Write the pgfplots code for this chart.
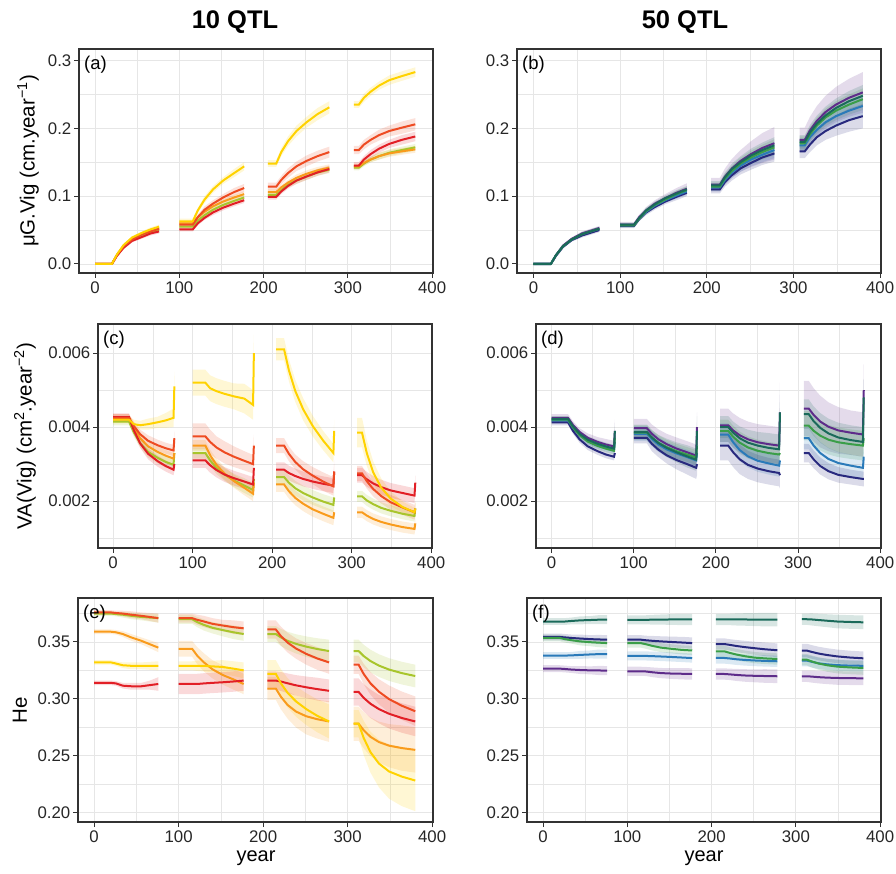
\documentclass[border=0pt]{standalone}
\usepackage{fontspec}
\setmainfont{Liberation Sans}
\usepackage{pgfplots}
\usepackage{pgfplotstable}
\pgfplotsset{compat=1.18}
\usepgfplotslibrary{fillbetween}

\definecolor{cY}{HTML}{FFD200}
\definecolor{cO}{HTML}{F99B1C}
\definecolor{cR}{HTML}{EE4B22}
\definecolor{cD}{HTML}{E21F26}
\definecolor{cG}{HTML}{A8C52C}
\definecolor{vP}{HTML}{5E2C8A}
\definecolor{vT}{HTML}{1A6A5A}
\definecolor{vG}{HTML}{3A9E48}
\definecolor{vB}{HTML}{2A7AB9}
\definecolor{vN}{HTML}{28297E}
\definecolor{gridc}{HTML}{E6E6E6}
\definecolor{axc}{HTML}{333333}

% ---------- data: x, series s1..s5, ribbon half-widths e1..e5 ----------
% (a) s1 yellow, s2 orangered, s3 orange, s4 yellowgreen, s5 red
\pgfplotstableread{
x s1 s2 s3 s4 s5 e1 e2 e3 e4 e5
0 0 0 0 0 0 0.0015 0.0015 0.0015 0.0015 0.0015
20 0 0 0 0 0 0.0015 0.0015 0.0015 0.0015 0.0015
26 0.014 0.013 0.013 0.013 0.012 0.002 0.002 0.002 0.002 0.002
34 0.028 0.026 0.027 0.026 0.024 0.002 0.002 0.002 0.002 0.002
44 0.039 0.036 0.037 0.036 0.034 0.002 0.002 0.002 0.002 0.002
56 0.046 0.044 0.045 0.043 0.040 0.0025 0.0025 0.0025 0.0025 0.0025
66 0.051 0.048 0.049 0.047 0.045 0.003 0.003 0.003 0.003 0.003
76 0.055 0.052 0.053 0.051 0.048 0.003 0.003 0.003 0.003 0.003
100 0.063 0.058 0.060 0.055 0.051 0.004 0.004 0.003 0.003 0.003
116 0.063 0.058 0.060 0.055 0.051 0.004 0.004 0.003 0.003 0.003
122 0.079 0.069 0.069 0.064 0.060 0.004 0.004 0.003 0.003 0.003
130 0.095 0.080 0.077 0.072 0.068 0.005 0.005 0.003 0.003 0.003
140 0.110 0.089 0.085 0.080 0.076 0.005 0.005 0.004 0.004 0.004
152 0.123 0.098 0.092 0.087 0.083 0.005 0.005 0.004 0.004 0.004
165 0.134 0.106 0.098 0.093 0.089 0.006 0.006 0.004 0.004 0.004
177 0.144 0.112 0.103 0.098 0.094 0.006 0.006 0.004 0.004 0.004
205 0.148 0.114 0.106 0.102 0.099 0.005 0.006 0.004 0.004 0.004
215 0.148 0.114 0.106 0.102 0.099 0.005 0.006 0.004 0.004 0.004
221 0.165 0.124 0.113 0.109 0.107 0.006 0.006 0.004 0.004 0.004
229 0.181 0.134 0.120 0.117 0.115 0.007 0.007 0.004 0.004 0.004
239 0.196 0.144 0.127 0.123 0.123 0.008 0.007 0.005 0.005 0.005
251 0.209 0.152 0.133 0.129 0.129 0.008 0.008 0.005 0.005 0.005
264 0.221 0.159 0.138 0.135 0.135 0.009 0.008 0.005 0.005 0.005
278 0.231 0.165 0.142 0.139 0.140 0.009 0.008 0.005 0.005 0.005
307 0.235 0.168 0.144 0.142 0.145 0.005 0.006 0.004 0.004 0.005
313 0.235 0.168 0.144 0.142 0.145 0.005 0.006 0.004 0.004 0.005
319 0.245 0.176 0.149 0.148 0.154 0.006 0.007 0.004 0.004 0.005
327 0.254 0.183 0.154 0.154 0.162 0.006 0.007 0.004 0.004 0.006
337 0.263 0.190 0.159 0.159 0.170 0.006 0.008 0.005 0.005 0.006
349 0.271 0.196 0.163 0.164 0.177 0.007 0.008 0.005 0.005 0.006
364 0.277 0.201 0.166 0.168 0.183 0.007 0.009 0.005 0.005 0.007
380 0.283 0.206 0.169 0.172 0.188 0.007 0.009 0.005 0.005 0.007
}\tA

% (b) s1 purple, s2 teal, s3 green, s4 blue, s5 navy
\pgfplotstableread{
x s1 s2 s3 s4 s5 e1 e2 e3 e4 e5
0 0 0 0 0 0 0.002 0.002 0.002 0.002 0.002
20 0 0 0 0 0 0.002 0.002 0.002 0.002 0.002
26 0.013 0.013 0.013 0.013 0.012 0.002 0.002 0.002 0.002 0.002
34 0.027 0.026 0.026 0.026 0.025 0.002 0.002 0.002 0.002 0.002
44 0.037 0.036 0.036 0.036 0.035 0.002 0.002 0.002 0.002 0.002
56 0.045 0.044 0.044 0.044 0.042 0.003 0.003 0.003 0.003 0.003
66 0.049 0.048 0.048 0.048 0.046 0.003 0.003 0.003 0.003 0.003
76 0.053 0.052 0.052 0.052 0.050 0.003 0.003 0.003 0.003 0.003
100 0.058 0.058 0.057 0.057 0.056 0.004 0.003 0.003 0.003 0.003
116 0.058 0.058 0.057 0.057 0.056 0.004 0.003 0.003 0.003 0.003
122 0.069 0.068 0.067 0.067 0.066 0.004 0.003 0.003 0.003 0.003
130 0.079 0.079 0.078 0.077 0.076 0.005 0.004 0.004 0.004 0.004
140 0.089 0.088 0.087 0.086 0.084 0.005 0.004 0.004 0.004 0.004
152 0.097 0.097 0.095 0.094 0.092 0.006 0.004 0.004 0.004 0.004
165 0.105 0.104 0.103 0.101 0.099 0.007 0.005 0.005 0.005 0.005
177 0.111 0.110 0.109 0.107 0.105 0.008 0.005 0.005 0.005 0.005
205 0.117 0.116 0.114 0.113 0.110 0.010 0.006 0.006 0.006 0.006
215 0.117 0.116 0.114 0.113 0.110 0.010 0.006 0.006 0.006 0.006
221 0.129 0.128 0.126 0.124 0.121 0.012 0.007 0.007 0.007 0.007
229 0.141 0.140 0.137 0.135 0.131 0.014 0.008 0.008 0.008 0.008
239 0.152 0.150 0.148 0.145 0.141 0.016 0.009 0.009 0.009 0.009
251 0.162 0.160 0.157 0.154 0.149 0.019 0.010 0.010 0.010 0.010
264 0.171 0.168 0.165 0.161 0.157 0.022 0.011 0.011 0.011 0.011
278 0.178 0.175 0.172 0.168 0.163 0.024 0.012 0.012 0.012 0.012
307 0.183 0.180 0.178 0.175 0.166 0.018 0.010 0.010 0.010 0.010
313 0.183 0.180 0.178 0.175 0.166 0.018 0.010 0.010 0.010 0.010
319 0.197 0.194 0.191 0.187 0.176 0.020 0.011 0.011 0.011 0.011
327 0.211 0.207 0.204 0.198 0.187 0.022 0.012 0.012 0.012 0.012
337 0.224 0.219 0.216 0.209 0.196 0.024 0.013 0.013 0.013 0.013
349 0.235 0.230 0.226 0.218 0.204 0.026 0.014 0.014 0.014 0.015
364 0.245 0.240 0.235 0.226 0.212 0.028 0.015 0.015 0.015 0.017
380 0.253 0.248 0.243 0.233 0.218 0.030 0.016 0.016 0.016 0.018
}\tB

% (c) s1 yellow, s2 orangered, s3 orange, s4 yellowgreen, s5 red
\pgfplotstableread{
x s1 s2 s3 s4 s5 e1 e2 e3 e4 e5
0 0.0042 0.00425 0.00425 0.00415 0.00427 0.0001 0.0001 0.0001 0.0001 0.0001
20 0.0042 0.00425 0.00425 0.00415 0.00427 0.0001 0.0001 0.0001 0.0001 0.0001
26 0.00408 0.00403 0.00398 0.00386 0.00392 0.00012 0.00012 0.00012 0.00012 0.00012
34 0.00405 0.00381 0.0037 0.00357 0.00356 0.00012 0.00012 0.00012 0.00012 0.00012
44 0.00408 0.00363 0.00348 0.00333 0.00328 0.00015 0.00015 0.00015 0.00015 0.00015
56 0.00413 0.00351 0.00333 0.00317 0.00308 0.00015 0.00015 0.00015 0.00015 0.00015
66 0.00418 0.00343 0.00323 0.00306 0.00295 0.0002 0.00015 0.00015 0.00015 0.00015
76 0.00425 0.00337 0.00315 0.00298 0.00285 0.00025 0.00015 0.00015 0.00015 0.00015
77 0.0051 0.0037 0.0033 0.0033 0.0030 0.0004 0.0002 0.0002 0.0002 0.0002
100 0.0052 0.00375 0.0035 0.0033 0.0031 0.00035 0.00035 0.00015 0.00015 0.0002
116 0.0052 0.00375 0.0035 0.0033 0.0031 0.00035 0.00035 0.00015 0.00015 0.0002
122 0.00505 0.0036 0.00324 0.0031 0.00297 0.00035 0.00033 0.00015 0.00015 0.0002
130 0.00497 0.00345 0.00298 0.0029 0.00284 0.00035 0.0003 0.00017 0.00017 0.0002
140 0.0049 0.00332 0.00275 0.00272 0.00272 0.00035 0.0003 0.00017 0.00017 0.0002
152 0.00483 0.0032 0.00254 0.00256 0.00262 0.00035 0.00028 0.00018 0.00018 0.0002
165 0.00477 0.00309 0.00236 0.00242 0.00253 0.0004 0.00026 0.0002 0.0002 0.0002
176 0.0046 0.003 0.0022 0.0023 0.00245 0.0004 0.00025 0.0002 0.0002 0.0002
177 0.0060 0.0035 0.0025 0.0026 0.0029 0.0005 0.0003 0.0002 0.0002 0.0002
205 0.0061 0.0035 0.00245 0.00265 0.00285 0.0003 0.0002 0.0002 0.0002 0.0002
215 0.0061 0.0035 0.00245 0.00265 0.00285 0.0003 0.0002 0.0002 0.0002 0.0002
221 0.00554 0.00328 0.00227 0.0025 0.00276 0.0003 0.0002 0.0002 0.0002 0.0002
229 0.00498 0.00306 0.00209 0.00235 0.00268 0.0003 0.0002 0.0002 0.0002 0.0002
239 0.00448 0.00286 0.00193 0.00222 0.0026 0.0003 0.00022 0.0002 0.0002 0.0002
251 0.00403 0.00269 0.00178 0.0021 0.00253 0.00028 0.00023 0.0002 0.0002 0.0002
264 0.00364 0.00253 0.00166 0.00199 0.00247 0.00026 0.00025 0.0002 0.0002 0.0002
277 0.0033 0.0024 0.00155 0.0019 0.00242 0.00025 0.00025 0.0002 0.0002 0.0002
278 0.0039 0.0028 0.0017 0.0021 0.0028 0.0003 0.0003 0.0002 0.0002 0.0002
307 0.00385 0.00275 0.0017 0.00213 0.0027 0.0004 0.0002 0.00015 0.00015 0.0002
313 0.00385 0.00275 0.0017 0.00213 0.0027 0.0004 0.0002 0.00015 0.00015 0.0002
319 0.0033 0.00254 0.00161 0.00202 0.00259 0.00035 0.0002 0.00015 0.00015 0.0002
327 0.00278 0.00233 0.00152 0.00192 0.00248 0.0003 0.0002 0.00015 0.00015 0.0002
337 0.00237 0.00214 0.00144 0.00182 0.00238 0.00025 0.0002 0.00015 0.00015 0.0002
349 0.00207 0.00197 0.00137 0.00174 0.00229 0.0002 0.0002 0.00015 0.00015 0.0002
364 0.00184 0.00183 0.0013 0.00166 0.00222 0.00015 0.0002 0.00015 0.00015 0.0002
379 0.0017 0.0017 0.00125 0.0016 0.00215 0.00012 0.0002 0.00015 0.00015 0.0002
380 0.0018 0.0018 0.0014 0.0018 0.0025 0.00015 0.0002 0.00015 0.00015 0.0002
}\tC

% (d) s1 purple, s2 teal, s3 green, s4 blue, s5 navy
\pgfplotstableread{
x s1 s2 s3 s4 s5 e1 e2 e3 e4 e5
0 0.00425 0.00422 0.0042 0.00418 0.00413 0.0001 0.00008 0.00008 0.00008 0.00008
20 0.00425 0.00422 0.0042 0.00418 0.00413 0.0001 0.00008 0.00008 0.00008 0.00008
26 0.00406 0.00402 0.00399 0.00399 0.0039 0.0001 0.00008 0.00008 0.00008 0.00008
34 0.00387 0.00382 0.00378 0.00379 0.00367 0.0001 0.00009 0.00009 0.00009 0.00009
44 0.00371 0.00366 0.00361 0.00363 0.00348 0.00012 0.0001 0.0001 0.0001 0.0001
56 0.0036 0.00355 0.00349 0.00352 0.00335 0.00013 0.0001 0.0001 0.0001 0.0001
66 0.00353 0.00348 0.00342 0.00345 0.00326 0.00015 0.0001 0.0001 0.0001 0.0001
76 0.00348 0.00342 0.00336 0.0034 0.0032 0.00015 0.0001 0.0001 0.0001 0.0001
77 0.0039 0.0039 0.0037 0.0036 0.0033 0.0003 0.0002 0.0001 0.0001 0.0001
100 0.00397 0.00387 0.00385 0.00382 0.00371 0.00025 0.0002 0.0002 0.0002 0.00015
116 0.00397 0.00387 0.00385 0.00382 0.00371 0.00025 0.0002 0.0002 0.0002 0.00015
122 0.00382 0.00372 0.00372 0.00368 0.00355 0.00025 0.0002 0.0002 0.0002 0.0002
130 0.00367 0.00357 0.00358 0.00353 0.00339 0.00027 0.00022 0.0002 0.0002 0.0002
140 0.00354 0.00344 0.00346 0.0034 0.00324 0.00028 0.00025 0.0002 0.0002 0.00022
152 0.00342 0.00332 0.00335 0.00329 0.00311 0.0003 0.00027 0.0002 0.0002 0.00025
165 0.00332 0.00321 0.00326 0.00319 0.003 0.0003 0.0003 0.0002 0.0002 0.00028
176 0.00323 0.00312 0.00318 0.0031 0.0029 0.0003 0.0003 0.0002 0.0002 0.0003
177 0.0040 0.0039 0.0035 0.0033 0.0030 0.0004 0.0004 0.0002 0.0002 0.0003
205 0.00405 0.004 0.0039 0.0038 0.0035 0.00045 0.0003 0.0003 0.0003 0.0004
215 0.00405 0.004 0.0039 0.0038 0.0035 0.00045 0.0003 0.0003 0.0003 0.0004
221 0.00391 0.00385 0.00374 0.00359 0.00332 0.00046 0.0003 0.0003 0.0003 0.0004
229 0.00378 0.0037 0.00358 0.00338 0.00313 0.00047 0.00032 0.0003 0.0003 0.0004
239 0.00367 0.00358 0.00345 0.00321 0.00298 0.00048 0.00035 0.0003 0.0003 0.00038
251 0.00359 0.0035 0.00336 0.00309 0.00288 0.00049 0.00037 0.0003 0.0003 0.00037
264 0.00354 0.00344 0.0033 0.00302 0.00281 0.0005 0.0004 0.0003 0.0003 0.00036
277 0.0035 0.0034 0.00326 0.00296 0.00276 0.0005 0.0004 0.0003 0.0003 0.00036
278 0.0044 0.0044 0.0033 0.0031 0.0027 0.0008 0.0006 0.0003 0.0003 0.00036
307 0.0045 0.00435 0.00404 0.0037 0.0033 0.00075 0.0004 0.0004 0.0003 0.00025
313 0.0045 0.00435 0.00404 0.0037 0.0033 0.00075 0.0004 0.0004 0.0003 0.00025
319 0.00433 0.00416 0.0039 0.0035 0.00313 0.00072 0.0004 0.0004 0.0003 0.00024
327 0.00415 0.00398 0.00377 0.0033 0.00295 0.0007 0.0004 0.0004 0.0003 0.00023
337 0.00401 0.00383 0.00366 0.00314 0.00281 0.00066 0.0004 0.0004 0.0003 0.00022
349 0.00391 0.00372 0.00359 0.00303 0.00271 0.00063 0.0004 0.0004 0.0003 0.00021
364 0.00385 0.00365 0.00354 0.00296 0.00265 0.0006 0.0004 0.0004 0.0003 0.0002
379 0.0038 0.0036 0.0035 0.0029 0.0026 0.0006 0.0004 0.0004 0.0003 0.0002
380 0.0050 0.0048 0.0037 0.0032 0.0026 0.0007 0.0005 0.0004 0.0003 0.0002
}\tD

% (e) s1 yellow, s2 orangered, s3 orange, s4 yellowgreen, s5 red
\pgfplotstableread{
x s1 s2 s3 s4 s5 e1 e2 e3 e4 e5
0 0.332 0.376 0.359 0.375 0.314 0.002 0.002 0.002 0.002 0.002
20 0.332 0.376 0.359 0.375 0.314 0.002 0.002 0.002 0.002 0.002
26 0.331 0.3755 0.3585 0.3745 0.3135 0.002 0.002 0.002 0.002 0.002
34 0.3295 0.375 0.357 0.374 0.3115 0.0025 0.0025 0.0025 0.0025 0.0025
44 0.329 0.374 0.354 0.373 0.311 0.003 0.003 0.003 0.003 0.003
56 0.329 0.373 0.351 0.372 0.311 0.003 0.003 0.003 0.003 0.003
66 0.329 0.372 0.348 0.3715 0.312 0.0035 0.0035 0.0035 0.0035 0.004
76 0.329 0.371 0.345 0.371 0.313 0.004 0.004 0.004 0.004 0.006
100 0.329 0.371 0.344 0.370 0.313 0.004 0.004 0.007 0.004 0.009
116 0.329 0.371 0.344 0.370 0.313 0.004 0.004 0.007 0.004 0.009
122 0.329 0.3695 0.338 0.3675 0.313 0.0045 0.0045 0.0075 0.0045 0.009
130 0.329 0.368 0.332 0.365 0.3135 0.005 0.005 0.008 0.005 0.009
140 0.3285 0.366 0.326 0.3625 0.314 0.005 0.005 0.008 0.005 0.009
152 0.328 0.3645 0.321 0.3605 0.3145 0.006 0.005 0.0085 0.0055 0.009
165 0.3265 0.363 0.317 0.3585 0.3152 0.0065 0.006 0.009 0.006 0.009
177 0.325 0.362 0.313 0.357 0.316 0.007 0.006 0.009 0.006 0.009
205 0.322 0.361 0.309 0.357 0.316 0.012 0.008 0.010 0.007 0.008
215 0.322 0.361 0.309 0.357 0.316 0.012 0.008 0.010 0.007 0.008
221 0.3136 0.3552 0.3018 0.354 0.3152 0.0125 0.0083 0.011 0.0075 0.0083
229 0.3052 0.3494 0.2945 0.351 0.3136 0.013 0.0087 0.012 0.008 0.0087
239 0.2976 0.3442 0.2887 0.3483 0.3118 0.0135 0.009 0.014 0.0085 0.009
251 0.2909 0.3395 0.2846 0.3459 0.3101 0.014 0.0095 0.016 0.009 0.0095
264 0.285 0.3355 0.282 0.3438 0.3085 0.0145 0.010 0.017 0.0095 0.010
278 0.280 0.332 0.280 0.342 0.307 0.015 0.010 0.018 0.010 0.010
307 0.278 0.330 0.278 0.342 0.306 0.012 0.008 0.015 0.010 0.012
313 0.278 0.330 0.278 0.342 0.306 0.012 0.008 0.015 0.010 0.012
319 0.2655 0.3218 0.2723 0.3376 0.3008 0.015 0.009 0.016 0.010 0.012
327 0.253 0.3136 0.2665 0.3332 0.2956 0.018 0.010 0.017 0.010 0.0125
337 0.243 0.3062 0.2619 0.3292 0.2909 0.021 0.011 0.018 0.010 0.0125
349 0.236 0.2997 0.2587 0.3257 0.2868 0.024 0.012 0.019 0.010 0.013
364 0.2315 0.2939 0.2566 0.3226 0.2831 0.026 0.0125 0.020 0.010 0.013
380 0.228 0.289 0.255 0.320 0.280 0.027 0.013 0.020 0.010 0.013
}\tE

% (f) s1 purple, s2 teal, s3 green, s4 blue, s5 navy
\pgfplotstableread{
x s1 s2 s3 s4 s5 e1 e2 e3 e4 e5
0 0.3265 0.368 0.3535 0.338 0.3544 0.003 0.003 0.003 0.003 0.003
20 0.3265 0.368 0.3535 0.338 0.3544 0.003 0.003 0.003 0.003 0.003
26 0.3262 0.368 0.3525 0.338 0.354 0.003 0.003 0.003 0.003 0.003
34 0.3257 0.3685 0.3515 0.3382 0.3535 0.003 0.003 0.003 0.003 0.003
44 0.3253 0.369 0.3505 0.3386 0.353 0.0035 0.0035 0.0035 0.0035 0.0035
56 0.325 0.3693 0.3498 0.339 0.3525 0.0035 0.0035 0.0035 0.0035 0.0035
66 0.3249 0.3696 0.3494 0.3393 0.3522 0.004 0.004 0.004 0.004 0.004
76 0.3248 0.3697 0.349 0.3394 0.352 0.004 0.004 0.004 0.004 0.004
100 0.3242 0.3695 0.349 0.3378 0.352 0.004 0.004 0.004 0.004 0.004
116 0.3242 0.3695 0.349 0.3378 0.352 0.004 0.004 0.004 0.004 0.004
122 0.324 0.3695 0.348 0.3377 0.3515 0.004 0.004 0.004 0.004 0.004
130 0.3233 0.3696 0.3465 0.3375 0.351 0.0043 0.0043 0.004 0.004 0.0043
140 0.3226 0.3697 0.345 0.3372 0.3505 0.0045 0.0045 0.004 0.004 0.0045
152 0.3222 0.3698 0.344 0.3368 0.350 0.0047 0.0047 0.004 0.004 0.0047
165 0.322 0.3698 0.343 0.3363 0.3495 0.005 0.005 0.004 0.004 0.005
177 0.3218 0.3698 0.3425 0.3358 0.349 0.005 0.005 0.004 0.004 0.005
205 0.3218 0.3698 0.3418 0.3359 0.3482 0.005 0.005 0.005 0.005 0.005
215 0.3218 0.3698 0.3418 0.3359 0.3482 0.005 0.005 0.005 0.005 0.005
221 0.3215 0.3698 0.3405 0.3355 0.3475 0.005 0.005 0.005 0.005 0.005
229 0.321 0.3698 0.339 0.3348 0.3465 0.0053 0.0053 0.005 0.005 0.0053
239 0.3205 0.3698 0.3375 0.3342 0.3455 0.0055 0.0055 0.005 0.005 0.0055
251 0.3202 0.3697 0.3362 0.3337 0.3445 0.0057 0.0057 0.005 0.005 0.0057
264 0.320 0.3697 0.3355 0.3333 0.3435 0.006 0.006 0.005 0.005 0.006
278 0.3198 0.3697 0.335 0.333 0.3427 0.006 0.006 0.005 0.005 0.006
307 0.3198 0.370 0.3344 0.3336 0.3424 0.005 0.005 0.005 0.005 0.006
313 0.3198 0.370 0.3344 0.3336 0.3424 0.005 0.005 0.005 0.005 0.006
319 0.3195 0.3698 0.3328 0.3325 0.3412 0.0053 0.0053 0.0053 0.005 0.006
327 0.319 0.3693 0.331 0.3312 0.3398 0.0055 0.0055 0.0055 0.005 0.006
337 0.3186 0.3687 0.3295 0.3303 0.3385 0.0057 0.0057 0.0057 0.005 0.006
349 0.3183 0.368 0.3283 0.3296 0.3373 0.006 0.006 0.006 0.005 0.006
364 0.3181 0.3676 0.3276 0.3292 0.3363 0.006 0.006 0.006 0.005 0.006
380 0.318 0.3673 0.3271 0.329 0.3356 0.006 0.006 0.006 0.005 0.006
}\tF

% ---------- drawing macros ----------
\newcommand\band[5]{%
\addplot[draw=none, forget plot, name path=#4u] table[x=x, y expr=\thisrow{s#2}+\thisrow{e#2}, restrict x to domain=#5]{#1};
\addplot[draw=none, forget plot, name path=#4l] table[x=x, y expr=\thisrow{s#2}-\thisrow{e#2}, restrict x to domain=#5]{#1};
\addplot[fill=#3, fill opacity=0.17, draw=none, forget plot] fill between[of=#4u and #4l];
}
\newcommand\ribbons[4]{%
\band{#1}{#2}{#3}{#4p}{-5:90}
\band{#1}{#2}{#3}{#4q}{90:195}
\band{#1}{#2}{#3}{#4r}{195:300}
\band{#1}{#2}{#3}{#4s}{300:400}
}
\newcommand\lines[3]{%
\addplot[#3, line width=2pt, forget plot] table[x=x, y=s#2, restrict x to domain=-5:90]{#1};
\addplot[#3, line width=2pt, forget plot] table[x=x, y=s#2, restrict x to domain=90:195]{#1};
\addplot[#3, line width=2pt, forget plot] table[x=x, y=s#2, restrict x to domain=195:300]{#1};
\addplot[#3, line width=2pt, forget plot] table[x=x, y=s#2, restrict x to domain=300:400]{#1};
}
\newcommand\warm[2]{% table, id
\ribbons{#1}{1}{cY}{#21}\ribbons{#1}{2}{cR}{#22}\ribbons{#1}{3}{cO}{#23}\ribbons{#1}{4}{cG}{#24}\ribbons{#1}{5}{cD}{#25}
\lines{#1}{4}{cG}\lines{#1}{3}{cO}\lines{#1}{5}{cD}\lines{#1}{2}{cR}\lines{#1}{1}{cY}
}
\newcommand\cool[2]{% table, id
\ribbons{#1}{1}{vP}{#21}\ribbons{#1}{2}{vT}{#22}\ribbons{#1}{3}{vG}{#23}\ribbons{#1}{4}{vB}{#24}\ribbons{#1}{5}{vN}{#25}
\lines{#1}{5}{vN}\lines{#1}{4}{vB}\lines{#1}{1}{vP}\lines{#1}{3}{vG}\lines{#1}{2}{vT}
}
\newcommand\paneltag[1]{\node[anchor=north west, inner sep=0pt, font=\fontsize{18.5}{18.5}\selectfont, xshift=5pt, yshift=-7pt] at (rel axis cs:0,1) {#1};}

\pgfplotsset{
 panel/.style={
  scale only axis, anchor=south west, height=224pt,
  xmin=-19, xmax=401,
  xtick={0,100,200,300,400}, xticklabels={0,100,200,300,400},
  minor xtick={50,150,250,350},
  grid=both,
  major grid style={color=gridc, line width=0.9pt},
  minor grid style={color=gridc, line width=0.5pt},
  tick align=outside, xtick pos=left, ytick pos=left,
  major tick length=5pt, minor tick length=0pt,
  tick style={color=axc, line width=1pt},
  axis line style={color=axc, line width=1.2pt},
  tick label style={font=\fontsize{16.8}{16.8}\selectfont, text=black!85},
  yticklabel style={inner sep=2.5pt},
  xticklabel style={inner sep=4pt},
  scaled y ticks=false, scaled x ticks=false,
 },
 rowA/.style={ymin=-0.0133, ymax=0.317, ytick={0,0.1,0.2,0.3}, yticklabels={0.0,0.1,0.2,0.3}, minor ytick={0.05,0.15,0.25}},
 rowC/.style={ymin=0.000735, ymax=0.006785, ytick={0.002,0.004,0.006}, yticklabels={0.002,0.004,0.006}, minor ytick={0.001,0.003,0.005}},
 rowE/.style={ymin=0.1915, ymax=0.3887, ytick={0.20,0.25,0.30,0.35}, yticklabels={0.20,0.25,0.30,0.35}, minor ytick={0.225,0.275,0.325,0.375}},
}

\begin{document}
\begin{tikzpicture}

\begin{axis}[panel, rowA, at={(79pt,600pt)}, width=354pt]
\warm{\tA}{a}
\paneltag{(a)}
\end{axis}

\begin{axis}[panel, rowA, at={(517pt,600pt)}, width=364pt]
\cool{\tB}{b}
\paneltag{(b)}
\end{axis}

\begin{axis}[panel, rowC, at={(98pt,325pt)}, width=334pt]
\warm{\tC}{c}
\paneltag{(c)}
\end{axis}

\begin{axis}[panel, rowC, at={(536pt,325pt)}, width=345pt]
\cool{\tD}{d}
\paneltag{(d)}
\end{axis}

\begin{axis}[panel, rowE, at={(78pt,51pt)}, width=355pt]
\warm{\tE}{e}
\paneltag{(e)}
\end{axis}

\begin{axis}[panel, rowE, at={(527pt,51pt)}, width=354pt]
\cool{\tF}{f}
\paneltag{(f)}
\end{axis}

\node[rotate=90, font=\fontsize{20.5}{20.5}\selectfont] at (28pt,712pt) {μG.Vig (cm.year\textsuperscript{−1})};
\node[rotate=90, font=\fontsize{20.5}{20.5}\selectfont] at (25pt,437pt) {VA(Vig) (cm\textsuperscript{2}.year\textsuperscript{−2})};
\node[rotate=90, font=\fontsize{20.5}{20.5}\selectfont] at (20pt,163pt) {He};
\node[font=\fontsize{20}{20}\selectfont] at (256pt,15pt) {year};
\node[font=\fontsize{20}{20}\selectfont] at (704pt,15pt) {year};
\node[font=\fontsize{25.5}{25.5}\selectfont\bfseries] at (235pt,851pt) {10 QTL};
\node[font=\fontsize{25.5}{25.5}\selectfont\bfseries] at (685pt,851pt) {50 QTL};
\pgfresetboundingbox
\useasboundingbox (0pt,0pt) rectangle (896pt,873pt);
\end{tikzpicture}
\end{document}
